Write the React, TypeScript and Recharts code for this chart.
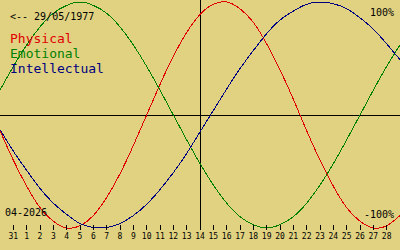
import { LineChart, Line, XAxis, YAxis, ReferenceLine } from 'recharts';

// day index -1 = 30 March, 0 = 31 March, 1..29 = April 2026
const DAYS = [-1, 0, 1, 2, 3, 4, 5, 6, 7, 8, 9, 10, 11, 12, 13, 14, 15, 16, 17, 18, 19, 20, 21, 22, 23, 24, 25, 26, 27, 28, 29];

const PHYSICAL = [-0.14, -0.4, -0.63, -0.82, -0.94, -1.0, -0.98, -0.89, -0.73, -0.52, -0.27, 0, 0.27, 0.52, 0.73, 0.89, 0.98, 1.0, 0.94, 0.82, 0.63, 0.4, 0.14, -0.14, -0.4, -0.63, -0.82, -0.94, -1.0, -0.98, -0.89];
const EMOTIONAL = [0.22, 0.43, 0.62, 0.78, 0.9, 0.97, 1.0, 0.97, 0.9, 0.78, 0.62, 0.43, 0.22, 0, -0.22, -0.43, -0.62, -0.78, -0.9, -0.97, -1.0, -0.97, -0.9, -0.78, -0.62, -0.43, -0.22, 0, 0.22, 0.43, 0.62];
const INTELLECTUAL = [-0.13, -0.32, -0.49, -0.65, -0.78, -0.88, -0.96, -0.995, -0.996, -0.96, -0.89, -0.79, -0.66, -0.51, -0.34, -0.15, 0.04, 0.23, 0.41, 0.57, 0.72, 0.84, 0.92, 0.98, 1.0, 0.985, 0.94, 0.86, 0.76, 0.63, 0.49];

const TICK_DAYS = [0, 1, 2, 3, 4, 5, 6, 7, 8, 9, 10, 11, 12, 13, 14, 15, 16, 17, 18, 19, 20, 21, 22, 23, 24, 25, 26, 27, 28];
const TICK_LABELS = ['31', '1', '2', '3', '4', '5', '6', '7', '8', '9', '10', '11', '12', '13', '14', '15', '16', '17', '18', '19', '20', '21', '22', '23', '24', '25', '26', '27', '28'];

const BIRTH_LABEL = '<-- 29/05/1977';
const MONTH_LABEL = '04-2026';
const SERIES = [
  { key: 'physical', name: 'Physical', color: '#e00000' },
  { key: 'emotional', name: 'Emotional', color: '#008000' },
  { key: 'intellectual', name: 'Intellectual', color: '#000080' },
];

const data = DAYS.map((day, i) => ({
  day,
  physical: PHYSICAL[i],
  emotional: EMOTIONAL[i],
  intellectual: INTELLECTUAL[i],
}));

const MONO = '"DejaVu Sans Mono", monospace';

function DayTick(props: any) {
  const { x, y, payload } = props;
  const idx = TICK_DAYS.indexOf(payload.value);
  return (
    <g>
      <line x1={x} x2={x} y1={y - 3} y2={y + 2} stroke="#000" shapeRendering="crispEdges" />
      <text x={x} y={y + 11} textAnchor="middle" fontFamily={MONO} fontSize={8} fill="#000">
        {TICK_LABELS[idx]}
      </text>
    </g>
  );
}

export default function App() {
  return (
    <div style={{ position: 'fixed', left: 0, top: 0, width: 400, height: 250, background: '#e0d280' }}>
      <style>{`
        .recharts-line-curve { shape-rendering: crispEdges; }
        .recharts-reference-line line { shape-rendering: crispEdges; }
      `}</style>
      <LineChart width={400} height={250} data={data} margin={{ top: 2, right: 0, bottom: 0, left: 0 }}>
        <XAxis
          dataKey="day"
          type="number"
          domain={[-1, 29]}
          ticks={TICK_DAYS}
          interval={0}
          height={22}
          axisLine={false}
          tickLine={false}
          tickSize={0}
          tickMargin={0}
          tick={<DayTick />}
        />
        <YAxis hide domain={[-1, 1]} />
        <ReferenceLine y={0} stroke="#000" />
        <ReferenceLine
          segment={[{ x: 14, y: 1.018 }, { x: 14, y: -1.009 }]}
          stroke="#000"
          ifOverflow="visible"
        />
        {SERIES.map((s) => (
          <Line
            key={s.key}
            type="natural"
            dataKey={s.key}
            stroke={s.color}
            strokeWidth={1}
            dot={false}
            isAnimationActive={false}
          />
        ))}
      </LineChart>
      <svg width={400} height={250} style={{ position: 'absolute', left: 0, top: 0, pointerEvents: 'none' }}>
        <g fontFamily={MONO} fontSize={10}>
          <text x={10} y={20} fill="#000">{BIRTH_LABEL}</text>
          {SERIES.map((s, i) => (
            <text key={s.key} x={10} y={43 + i * 15} fill={s.color} fontSize={13}>{s.name}</text>
          ))}
          <text x={394} y={16} textAnchor="end" fill="#000">100%</text>
          <text x={394} y={218} textAnchor="end" fill="#000">-100%</text>
          <text x={5} y={216} fill="#000">{MONTH_LABEL}</text>
        </g>
      </svg>
    </div>
  );
}
